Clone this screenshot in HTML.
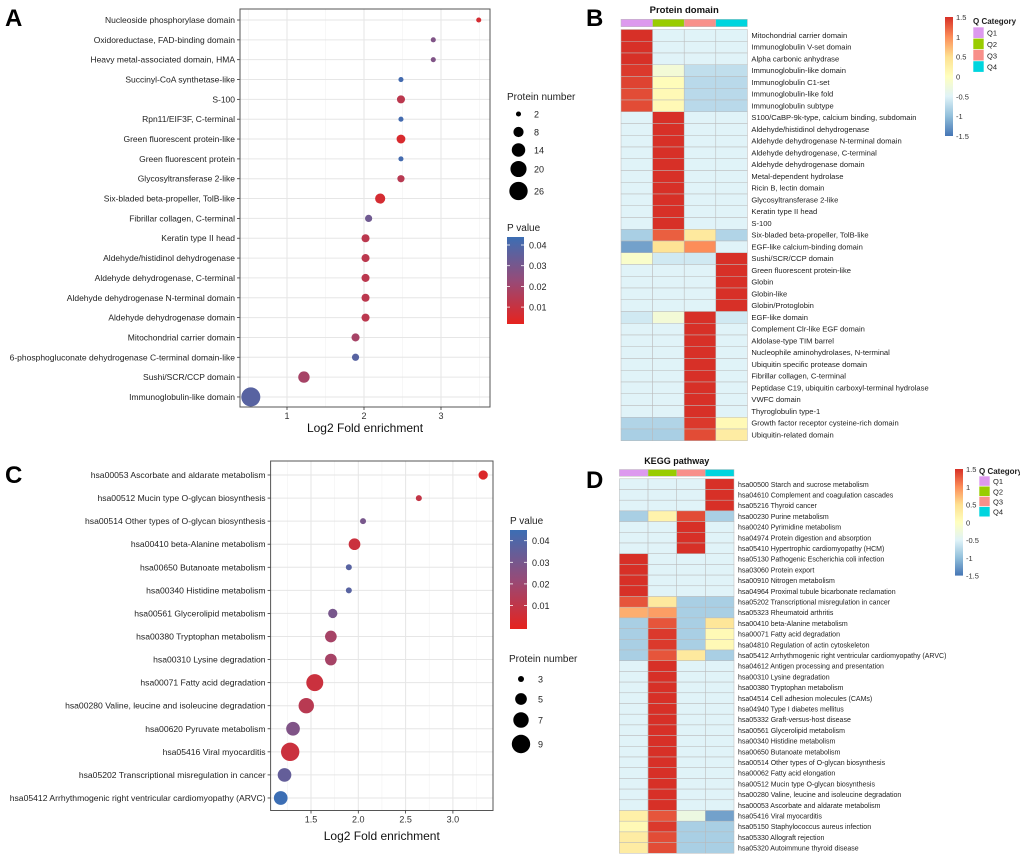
<!DOCTYPE html>
<html><head><meta charset="utf-8">
<style>
html,body{margin:0;padding:0;background:#fff;}
svg{display:block;font-family:"Liberation Sans",sans-serif;}
</style></head>
<body>
<svg id="fig" width="1020" height="858" viewBox="0 0 1020 858" xmlns="http://www.w3.org/2000/svg">
<defs>
<linearGradient id="pgrad" x1="0" y1="1" x2="0" y2="0">
<stop offset="0" stop-color="rgb(230,35,30)"/>
<stop offset="0.5" stop-color="rgb(150,75,120)"/>
<stop offset="1" stop-color="rgb(60,110,180)"/>
</linearGradient>
<linearGradient id="zgrad" x1="0" y1="1" x2="0" y2="0">
<stop offset="0" stop-color="#4575b4"/>
<stop offset="0.1667" stop-color="#91bfdb"/>
<stop offset="0.3333" stop-color="#e0f3f8"/>
<stop offset="0.5" stop-color="#ffffbf"/>
<stop offset="0.6667" stop-color="#fee090"/>
<stop offset="0.8333" stop-color="#fc8d59"/>
<stop offset="1" stop-color="#d73027"/>
</linearGradient>
</defs>
<text x="5" y="26" font-size="24" font-weight="bold">A</text>
<text x="586" y="26" font-size="24" font-weight="bold">B</text>
<text x="5" y="483" font-size="24" font-weight="bold">C</text>
<text x="586" y="488" font-size="24" font-weight="bold">D</text>
<g id="pa"></g>
<g id="pb"></g>
<g id="pc"></g>
<g id="pd"></g>
</svg>
<script>
// ---------- Panel A data ----------
const aCats=["Nucleoside phosphorylase domain","Oxidoreductase, FAD-binding domain","Heavy metal-associated domain, HMA","Succinyl-CoA synthetase-like","S-100","Rpn11/EIF3F, C-terminal","Green fluorescent protein-like","Green fluorescent protein","Glycosyltransferase 2-like","Six-bladed beta-propeller, TolB-like","Fibrillar collagen, C-terminal","Keratin type II head","Aldehyde/histidinol dehydrogenase","Aldehyde dehydrogenase, C-terminal","Aldehyde dehydrogenase N-terminal domain","Aldehyde dehydrogenase domain","Mitochondrial carrier domain","6-phosphogluconate dehydrogenase C-terminal domain-like","Sushi/SCR/CCP domain","Immunoglobulin-like domain"];
const aFold=[3.49,2.90,2.90,2.48,2.48,2.48,2.48,2.48,2.48,2.21,2.06,2.02,2.02,2.02,2.02,2.02,1.89,1.89,1.22,0.53];
const aCount=[2,2,2,2,5,2,6,2,4,8,4,5,5,5,5,5,5,4,10,28];
const aP=[0.005,0.028,0.028,0.043,0.012,0.043,0.004,0.043,0.013,0.005,0.032,0.012,0.012,0.012,0.012,0.012,0.018,0.038,0.018,0.038];
const aTicks=[1,2,3];
const aSizeLegend=[2,8,14,20,26];
const pTicks=[0.01,0.02,0.03,0.04];
// ---------- Panel C data ----------
const cCats=["hsa00053 Ascorbate and aldarate metabolism","hsa00512 Mucin type O-glycan biosynthesis","hsa00514 Other types of O-glycan biosynthesis","hsa00410 beta-Alanine metabolism","hsa00650 Butanoate metabolism","hsa00340 Histidine metabolism","hsa00561 Glycerolipid metabolism","hsa00380 Tryptophan metabolism","hsa00310 Lysine degradation","hsa00071 Fatty acid degradation","hsa00280 Valine, leucine and isoleucine degradation","hsa00620 Pyruvate metabolism","hsa05416 Viral myocarditis","hsa05202 Transcriptional misregulation in cancer","hsa05412 Arrhythmogenic right ventricular cardiomyopathy (ARVC)"];
const cFold=[3.32,2.64,2.05,1.96,1.90,1.90,1.73,1.71,1.71,1.54,1.45,1.31,1.28,1.22,1.18];
const cCount=[4,3,3,5,3,3,4,5,5,8,7,6,9,6,6];
const cP=[0.003,0.01,0.03,0.008,0.038,0.038,0.03,0.018,0.018,0.008,0.013,0.028,0.008,0.035,0.045];
const cTicks=[1.5,2.0,2.5,3.0];
const cSizeLegend=[3,5,7,9];
// ---------- Panel B data ----------
const bRows=["Mitochondrial carrier domain","Immunoglobulin V-set domain","Alpha carbonic anhydrase","Immunoglobulin-like domain","Immunoglobulin C1-set","Immunoglobulin-like fold","Immunoglobulin subtype","S100/CaBP-9k-type, calcium binding, subdomain","Aldehyde/histidinol dehydrogenase","Aldehyde dehydrogenase N-terminal domain","Aldehyde dehydrogenase, C-terminal","Aldehyde dehydrogenase domain","Metal-dependent hydrolase","Ricin B, lectin domain","Glycosyltransferase 2-like","Keratin type II head","S-100","Six-bladed beta-propeller, TolB-like","EGF-like calcium-binding domain","Sushi/SCR/CCP domain","Green fluorescent protein-like","Globin","Globin-like","Globin/Protoglobin","EGF-like domain","Complement Clr-like EGF domain","Aldolase-type TIM barrel","Nucleophile aminohydrolases, N-terminal","Ubiquitin specific protease domain","Fibrillar collagen, C-terminal","Peptidase C19, ubiquitin carboxyl-terminal hydrolase","VWFC domain","Thyroglobulin type-1","Growth factor receptor cysteine-rich domain","Ubiquitin-related domain"];
const bQ1=[1.5,1.5,1.5,1.45,1.4,1.35,1.35,-0.5,-0.5,-0.5,-0.5,-0.5,-0.5,-0.5,-0.5,-0.5,-0.5,-0.85,-1.2,-0.1,-0.5,-0.5,-0.5,-0.5,-0.6,-0.5,-0.5,-0.5,-0.5,-0.5,-0.5,-0.5,-0.5,-0.8,-0.85];
const bQ2=[-0.5,-0.5,-0.5,-0.2,0.05,0.1,0.1,1.5,1.5,1.5,1.5,1.5,1.5,1.5,1.5,1.5,1.5,1.25,0.45,-0.6,-0.5,-0.5,-0.5,-0.5,-0.2,-0.5,-0.5,-0.5,-0.5,-0.5,-0.5,-0.5,-0.5,-0.8,-0.85];
const bQ3=[-0.5,-0.5,-0.5,-0.7,-0.75,-0.75,-0.75,-0.5,-0.5,-0.5,-0.5,-0.5,-0.5,-0.5,-0.5,-0.5,-0.5,0.35,1.0,-0.6,-0.5,-0.5,-0.5,-0.5,1.5,1.5,1.5,1.5,1.5,1.5,1.5,1.5,1.5,1.45,1.35];
const bQ4=[-0.5,-0.5,-0.5,-0.7,-0.75,-0.75,-0.75,-0.5,-0.5,-0.5,-0.5,-0.5,-0.5,-0.5,-0.5,-0.5,-0.5,-0.8,-0.5,1.5,1.5,1.5,1.5,1.5,-0.6,-0.5,-0.5,-0.5,-0.5,-0.5,-0.5,-0.5,-0.5,0.1,0.3];
// ---------- Panel D data ----------
const dRows=["hsa00500 Starch and sucrose metabolism","hsa04610 Complement and coagulation cascades","hsa05216 Thyroid cancer","hsa00230 Purine metabolism","hsa00240 Pyrimidine metabolism","hsa04974 Protein digestion and absorption","hsa05410 Hypertrophic cardiomyopathy (HCM)","hsa05130 Pathogenic Escherichia coli infection","hsa03060 Protein export","hsa00910 Nitrogen metabolism","hsa04964 Proximal tubule bicarbonate reclamation","hsa05202 Transcriptional misregulation in cancer","hsa05323 Rheumatoid arthritis","hsa00410 beta-Alanine metabolism","hsa00071 Fatty acid degradation","hsa04810 Regulation of actin cytoskeleton","hsa05412 Arrhythmogenic right ventricular cardiomyopathy (ARVC)","hsa04612 Antigen processing and presentation","hsa00310 Lysine degradation","hsa00380 Tryptophan metabolism","hsa04514 Cell adhesion molecules (CAMs)","hsa04940 Type I diabetes mellitus","hsa05332 Graft-versus-host disease","hsa00561 Glycerolipid metabolism","hsa00340 Histidine metabolism","hsa00650 Butanoate metabolism","hsa00514 Other types of O-glycan biosynthesis","hsa00062 Fatty acid elongation","hsa00512 Mucin type O-glycan biosynthesis","hsa00280 Valine, leucine and isoleucine degradation","hsa00053 Ascorbate and aldarate metabolism","hsa05416 Viral myocarditis","hsa05150 Staphylococcus aureus infection","hsa05330 Allograft rejection","hsa05320 Autoimmune thyroid disease"];
const dQ1=[-0.5,-0.5,-0.5,-0.85,-0.5,-0.5,-0.5,1.5,1.5,1.5,1.5,1.3,0.8,-0.85,-0.85,-0.85,-0.85,-0.5,-0.5,-0.5,-0.5,-0.5,-0.5,-0.5,-0.5,-0.5,-0.5,-0.5,-0.5,-0.5,-0.5,0.25,0.1,0.3,0.3];
const dQ2=[-0.5,-0.5,-0.5,0.2,-0.5,-0.5,-0.5,-0.5,-0.5,-0.5,-0.5,0.35,0.9,1.3,1.45,1.45,1.3,1.5,1.5,1.5,1.5,1.5,1.5,1.5,1.5,1.5,1.5,1.5,1.5,1.5,1.5,1.3,1.45,1.35,1.35];
const dQ3=[-0.5,-0.5,-0.5,1.35,1.5,1.5,1.5,-0.5,-0.5,-0.5,-0.5,-0.85,-0.85,-0.85,-0.85,-0.85,0.35,-0.5,-0.5,-0.5,-0.5,-0.5,-0.5,-0.5,-0.5,-0.5,-0.5,-0.5,-0.5,-0.5,-0.5,-0.3,-0.85,-0.85,-0.85];
const dQ4=[1.5,1.5,1.5,-0.85,-0.5,-0.5,-0.5,-0.5,-0.5,-0.5,-0.5,-0.85,-0.85,0.4,0.1,0.1,-0.85,-0.5,-0.5,-0.5,-0.5,-0.5,-0.5,-0.5,-0.5,-0.5,-0.5,-0.5,-0.5,-0.5,-0.5,-1.2,-0.85,-0.85,-0.85];
const qNames=["Q1","Q2","Q3","Q4"];
const qColors=["#dd99ee","#99cc00","#f8908a","#00d5de"];
const zTicks=[1.5,1,0.5,0,-0.5,-1,-1.5];

const NS="http://www.w3.org/2000/svg";
function mk(parent,tag,attrs,text){const e=document.createElementNS(NS,tag);for(const k in attrs)e.setAttribute(k,attrs[k]);if(text!==undefined)e.textContent=text;parent.appendChild(e);return e;}
function lerp(a,b,t){return a+(b-a)*t;}
function pColor(p){const lo=[230,35,30],mid=[150,75,120],hi=[60,110,180];let t=Math.max(0,Math.min(1,p/0.045));let c;if(t<0.5){const u=t/0.5;c=lo.map((v,i)=>lerp(v,mid[i],u));}else{const u=(t-0.5)/0.5;c=mid.map((v,i)=>lerp(v,hi[i],u));}return "rgb("+c.map(Math.round).join(",")+")";}
const zStops=[[-1.5,[69,117,180]],[-1,[145,191,219]],[-0.5,[224,243,248]],[0,[255,255,191]],[0.5,[254,224,144]],[1,[252,141,89]],[1.5,[215,48,39]]];
function zColor(z){z=Math.max(-1.5,Math.min(1.5,z));for(let i=0;i<zStops.length-1;i++){const a=zStops[i],b=zStops[i+1];if(z<=b[0]){const t=(z-a[0])/(b[0]-a[0]);return "rgb("+a[1].map((v,j)=>Math.round(lerp(v,b[1][j],t))).join(",")+")";}}return "rgb(215,48,39)";}

function dotPlot(g,o){
  const {cats,fold,count,pv,ticks,minor,x,y,r,box,lblSize,pref}=o;
  const bg=mk(g,"rect",{x:box.l,y:box.t,width:box.r-box.l,height:box.b-box.t,fill:"#fff"});
  
  
  minor.forEach(v=>{const gl=mk(g,"line",{x1:x(v),x2:x(v),y1:box.t,y2:box.b,stroke:"#f2f2f2","stroke-width":0.6});
    
    });
  ticks.forEach(v=>{const gl=mk(g,"line",{x1:x(v),x2:x(v),y1:box.t,y2:box.b,stroke:"#e6e6e6","stroke-width":1});
    
    });
  cats.forEach((c,i)=>{const gl=mk(g,"line",{x1:box.l,x2:box.r,y1:y(i),y2:y(i),stroke:"#e6e6e6","stroke-width":1});
    
    });
  cats.forEach((c,i)=>{
    const t=mk(g,"text",{x:box.l-5,y:y(i)+3,"font-size":lblSize,"text-anchor":"end",fill:"#222"},c);
    
    
    const tk=mk(g,"line",{x1:box.l-3,x2:box.l,y1:y(i),y2:y(i),stroke:"#333","stroke-width":0.8});
    
    
  });
  cats.forEach((c,i)=>{
    const d=mk(g,"circle",{cx:x(fold[i]),cy:y(i),r:r(count[i]),fill:pColor(pv[i])});
    
    
  });
  const fr=mk(g,"rect",{x:box.l,y:box.t,width:box.r-box.l,height:box.b-box.t,fill:"none",stroke:"#555","stroke-width":1});
  
  
  ticks.forEach(v=>{
    const tk=mk(g,"line",{x1:x(v),x2:x(v),y1:box.b,y2:box.b+3,stroke:"#333","stroke-width":0.8});
    
    
    const t=mk(g,"text",{x:x(v),y:box.b+12,"font-size":o.tickSize,"text-anchor":"middle",fill:"#333"},o.fmt(v));
    
    
  });
  const at=mk(g,"text",{x:(box.l+box.r)/2,y:o.titleY,"font-size":12,"text-anchor":"middle",fill:"#111"},"Log2 Fold enrichment");
  
  
}
function sizeLegend(g,o){
  const t=mk(g,"text",{x:o.x,y:o.ty,"font-size":10,fill:"#222"},"Protein number");
  
  
  o.vals.forEach((v,i)=>{
    const c=mk(g,"circle",{cx:o.cx,cy:o.ys[i],r:o.r(v),fill:"#000"});
    
    
    const l=mk(g,"text",{x:o.lx,y:o.ys[i]+3.5,"font-size":9,fill:"#222"},String(v));
    
    
  });
}
function pLegend(g,o){
  const t=mk(g,"text",{x:o.x,y:o.ty,"font-size":10,fill:"#222"},"P value");
  
  
  const b=mk(g,"rect",{x:o.x,y:o.top,width:17,height:o.bot-o.top,fill:"url(#pgrad)"});
  
  
  pTicks.forEach(v=>{
    const yy=o.py(v);
    mk(g,"line",{x1:o.x,x2:o.x+3,y1:yy,y2:yy,stroke:"#fff","stroke-width":0.8});
    mk(g,"line",{x1:o.x+14,x2:o.x+17,y1:yy,y2:yy,stroke:"#fff","stroke-width":0.8});
    const l=mk(g,"text",{x:o.x+22,y:yy+3.5,"font-size":9,fill:"#222"},v.toFixed(2));
    
    
  });
}

const xA=v=>210+77*v, yA=i=>20+i*19.84, rA=n=>1.8*Math.sqrt(n);
const pa=document.getElementById("pa");
dotPlot(pa,{cats:aCats,fold:aFold,count:aCount,pv:aP,ticks:aTicks,minor:[0.5,1.5,2.5,3.5],x:xA,y:yA,r:rA,box:{l:240,t:9,r:490,b:407},lblSize:8.5,pref:"a",tickSize:9,fmt:v=>String(v),titleY:432});
sizeLegend(pa,{pref:"a",x:507,ty:100,cx:518.5,ys:[114,132,150,169,191],lx:534,vals:aSizeLegend,r:rA});
pLegend(pa,{pref:"a",x:507,ty:231,top:237,bot:324,py:v=>245+(0.04-v)/0.01*20.7});

const xC=v=>311+(v-1.5)*94.6, yC=i=>475+i*23.07, rC=n=>Math.sqrt(Math.max(4,9+(n-3)/6*75.6));
const pc=document.getElementById("pc");
dotPlot(pc,{cats:cCats,fold:cFold,count:cCount,pv:cP,ticks:cTicks,minor:[1.25,1.75,2.25,2.75,3.25],x:xC,y:yC,r:rC,box:{l:270.6,t:461,r:493,b:810.5},lblSize:8.6,pref:"c",tickSize:9,fmt:v=>v.toFixed(1),titleY:840});
pLegend(pc,{pref:"c",x:510,ty:524,top:530,bot:629,py:v=>540.7+(0.04-v)/0.01*21.6});
sizeLegend(pc,{pref:"c",x:509,ty:662,cx:521,ys:[679,699,720,744],lx:538,vals:cSizeLegend,r:rC});

function heatmap(g,o){
  const cols=[o.q1,o.q2,o.q3,o.q4];
  const tt=mk(g,"text",{x:o.left+2*o.cw,y:o.titleY,"font-size":o.titleSize,"font-weight":"bold","text-anchor":"middle",fill:"#111"},o.title);
  
  
  qColors.forEach((c,j)=>{
    const a=mk(g,"rect",{x:o.left+j*o.cw,y:o.annT,width:o.cw,height:o.annH,fill:c,stroke:"#bbb","stroke-width":0.5});
    
    
  });
  o.rows.forEach((rname,i)=>{
    cols.forEach((col,j)=>{
      const c=mk(g,"rect",{x:o.left+j*o.cw,y:o.top+i*o.rh,width:o.cw,height:o.rh,fill:zColor(col[i]),stroke:"#b9b9b9","stroke-width":0.5});
      
      
    });
    const t=mk(g,"text",{x:o.left+4*o.cw+4,y:o.top+(i+0.5)*o.rh+2.6,"font-size":o.lblSize,fill:"#222"},rname);
    
    
  });
  const zb=mk(g,"rect",{x:o.zx,y:o.zt,width:8,height:o.zb-o.zt,fill:"url(#zgrad)"});
  
  
  zTicks.forEach(v=>{
    const yy=o.zt+(1.5-v)/3*(o.zb-o.zt);
    const l=mk(g,"text",{x:o.zx+11,y:yy+3,"font-size":7.5,fill:"#333"},String(v));
    
    
  });
  const qt=mk(g,"text",{x:o.qx,y:o.qty,"font-size":8,"font-weight":"bold",fill:"#222"},"Q Category");
  
  
  qColors.forEach((c,j)=>{
    const s=mk(g,"rect",{x:o.qx,y:o.qst+j*o.qsh,width:11,height:o.qsh,fill:c,stroke:"#fff","stroke-width":0.6});
    
    
    const l=mk(g,"text",{x:o.qx+14,y:o.qst+(j+0.5)*o.qsh+3,"font-size":7.5,fill:"#222"},qNames[j]);
    
    
  });
}
heatmap(document.getElementById("pb"),{pref:"b",title:"Protein domain",titleY:13,titleSize:9.5,rows:bRows,q1:bQ1,q2:bQ2,q3:bQ3,q4:bQ4,left:621,cw:31.6,top:29.5,rh:11.75,annT:19.3,annH:7.4,lblSize:7.6,zx:945,zt:17,zb:136,qx:973,qty:24,qst:27,qsh:11.3});
heatmap(document.getElementById("pd"),{pref:"d",title:"KEGG pathway",titleY:464,titleSize:9,rows:dRows,q1:dQ1,q2:dQ2,q3:dQ3,q4:dQ4,left:619.4,cw:28.65,top:478.8,rh:10.7,annT:469.5,annH:6.8,lblSize:7,zx:955,zt:469,zb:575.6,qx:979,qty:474,qst:476,qsh:10.2});
</script>
</body></html>
